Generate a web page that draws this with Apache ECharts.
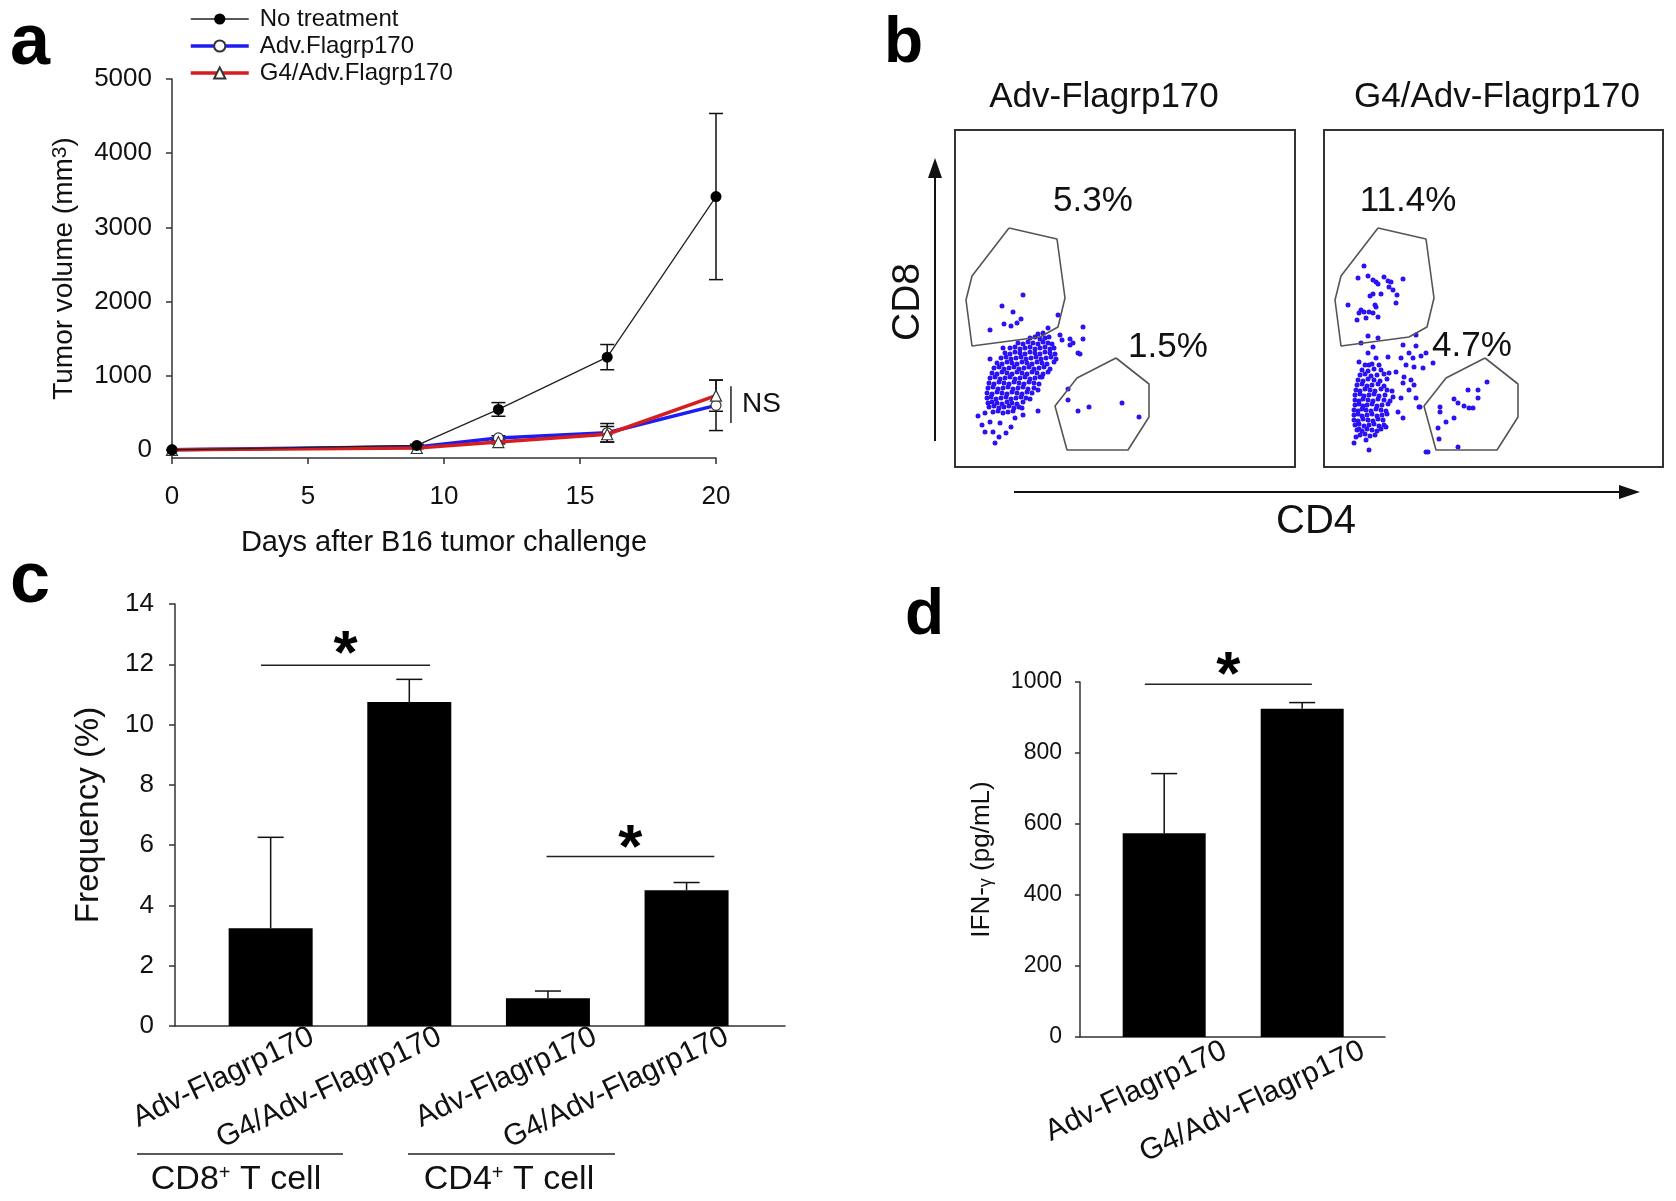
<!DOCTYPE html>
<html><head><meta charset="utf-8">
<script src="https://cdn.jsdelivr.net/npm/echarts@6/dist/echarts.min.js"></script>
<style>html,body{margin:0;padding:0;background:#fff}#c{width:1676px;height:1201px}</style>
</head><body><div id="c"></div>
<script>
const FONT = '"Liberation Sans", Arial, sans-serif';

// ---------- Panel a : tumor growth ----------
const days = [0, 9, 12, 16, 20];
const noTreatment = [0, 60, 545, 1250, 3415];
const noTreatmentErr = [0, 15, 92, 170, 1120];
const advFlagrp = [0, 40, 160, 230, 600];
const advFlagrpErr = [0, 10, 30, 125, 340];
const g4AdvFlagrp = [0, 25, 105, 210, 730];
const g4AdvFlagrpErr = [0, 10, 25, 105, 210];
const seriesNamesA = ['No treatment', 'Adv.Flagrp170', 'G4/Adv.Flagrp170'];
const yTicksA = [0, 1000, 2000, 3000, 4000, 5000];
const nsBracket = [[20.55, 362, 858]];

// ---------- Panel b : flow cytometry ----------
const flowTitles = ['Adv-Flagrp170', 'G4/Adv-Flagrp170'];
const flowPercents = [['5.3%', '1.5%'], ['11.4%', '4.7%']];
const cd8Gate = [[54,239],[102,228],[110,169],[103,140],[85,130],[17,121],[11,167],[17,191],[54,239]];
const cd4Gate = [[161,109],[194,83],[194,50],[173,17],[112,17],[100,61],[122,89],[161,109]];
const flowPointsAdv = [
 [68,172],[47,161],[58,155],[49,143],[56,141],[62,144],[66,148],[35,137],[103,152],[93,139],
 [113,78],[113,67],[123,56],[134,60],[167,64],[184,50],
 [40,24],[30,35],[38,35],[51,34],[23,51],[30,54],[35,45],[45,44],[60,49],[68,52],[83,56],[67,59],[75,68],[83,77],[85,90],
 [115,122],[123,114],[105,132],[107,127],[115,128],[35,108],[48,119],[128,140],[128,128],[125,113],[118,124],[27,42],[44,30],[56,40],
 [38,55],[43,56],[48,54],[53,55],[58,56],
 [34,60],[39,61],[44,59],[49,60],[54,61],[59,59],[64,60],
 [33,64],[37,65],[42,64],[47,63],[52,65],[57,64],[62,63],[68,65],
 [32,69],[36,70],[41,68],[46,69],[51,70],[56,68],[61,69],[66,70],[71,69],
 [32,74],[37,73],[42,75],[47,74],[52,73],[57,75],[62,74],[67,73],[72,75],[77,74],
 [33,79],[38,80],[43,78],[48,79],[53,80],[58,78],[63,79],[68,80],[73,78],[79,79],
 [34,84],[39,83],[44,85],[49,84],[54,83],[59,85],[64,84],[69,83],[74,85],[79,84],[84,83],
 [35,89],[40,90],[45,88],[50,89],[55,90],[60,88],[65,89],[70,90],[75,88],[80,89],[87,90],
 [37,94],[42,93],[47,95],[52,94],[57,93],[62,95],[67,94],[72,93],[77,95],[82,94],[88,93],[93,95],
 [39,99],[44,100],[49,98],[54,99],[59,100],[64,98],[69,99],[74,100],[79,98],[84,99],[89,100],[95,98],
 [42,104],[47,103],[52,105],[57,104],[62,103],[67,105],[72,104],[77,103],[82,105],[87,104],[92,103],[99,105],
 [46,109],[51,110],[56,108],[61,109],[66,110],[71,108],[76,109],[81,110],[86,108],[91,109],[96,110],[101,108],
 [50,114],[55,113],[60,115],[65,114],[70,113],[75,115],[80,114],[85,113],[90,115],[95,114],[100,113],
 [55,119],[60,120],[65,118],[70,119],[75,120],[80,118],[85,119],[90,120],[95,118],[99,119],
 [63,124],[68,123],[73,125],[78,124],[83,123],[88,125],[93,124],[97,123],
 [75,129],[80,130],[85,128],[90,129],[94,130],
 [83,133],[88,134]
];
const flowPointsG4 = [
 [40,201],[34,189],[44,191],[49,187],[52,185],[54,183],[60,190],[64,186],[67,185],[65,180],[69,177],[73,172],[72,164],[79,188],
 [57,173],[49,173],[46,171],[24,162],[51,162],[52,160],[37,157],[40,155],[35,154],[45,155],[49,154],[54,150],[42,149],[33,147],
 [44,131],[54,129],[37,124],[49,120],[79,122],[92,132],[92,121],
 [102,114],[109,104],[85,114],[77,109],[89,109],[97,111],[82,102],[90,100],[99,99],[72,95],[80,90],[87,87],[79,84],[90,82],
 [85,77],[69,70],[77,69],[92,69],[74,55],[79,49],[62,40],[65,94],[55,102],[64,110],[44,114],[35,105],[45,102],[52,109],[95,60],
 [32,30],[42,27],[45,17],[30,24],[102,15],[35,38],
 [163,85],[154,77],[144,77],[154,69],[130,68],[134,64],[140,61],[145,59],[149,59],[116,60],[116,55],[130,49],[122,45],
 [114,39],[115,28],[134,20],[104,15],[96,60],
 [36,32],[41,33],[46,31],[51,32],
 [33,37],[38,36],[43,38],[48,37],[53,36],[57,38],
 [31,42],[35,43],[40,41],[45,42],[50,43],[55,41],[60,42],
 [30,47],[34,46],[39,48],[44,47],[49,46],[54,48],[59,47],
 [30,52],[34,53],[38,51],[43,52],[48,53],[53,51],[58,52],[63,53],
 [30,57],[34,56],[38,58],[42,57],[47,56],[52,58],[57,57],[62,56],
 [31,62],[35,63],[39,61],[43,62],[48,63],[53,61],[58,62],[64,63],
 [31,67],[35,66],[39,68],[44,67],[49,66],[54,68],[60,67],[66,66],
 [31,72],[36,73],[40,71],[45,72],[50,73],[55,71],[61,72],
 [32,77],[36,76],[41,78],[46,77],[51,76],[57,78],[63,77],[68,76],
 [33,82],[38,83],[43,81],[48,82],[54,83],[60,81],
 [34,87],[39,86],[44,88],[50,87],[56,86],[63,88],
 [36,92],[41,93],[47,91],[53,92],[60,93],
 [38,97],[44,96],[50,98],[57,97],
 [41,102],[48,103]
];

// ---------- Panel c : frequency ----------
const catsC = ['Adv-Flagrp170', 'G4/Adv-Flagrp170', 'Adv-Flagrp170', 'G4/Adv-Flagrp170'];
const freqPos = [1, 2, 3, 4];
const freqValues = [3.24, 10.75, 0.92, 4.5];
const freqErr = [3.02, 0.75, 0.24, 0.26];
const groupsC = ['CD8', 'CD4'];
const sigC = [[0.93, 2.15, 11.97, 12.75], [2.99, 4.2, 5.62, 6.3]];

// ---------- Panel d : IFN-gamma ----------
const catsD = ['Adv-Flagrp170', 'G4/Adv-Flagrp170'];
const ifnPos = [1, 2];
const ifnValues = [574, 925];
const ifnErr = [168, 17];
const sigD = [[0.86, 2.07, 994, 1054]];

// ---------- helpers ----------
const AX = '#333';
function errRender(capW, upOnly) {
  return function (params, api) {
    const x = api.value(0), y = api.value(1), e = api.value(2);
    if (!e) return null;
    const top = api.coord([x, y + e]);
    const bot = api.coord([x, upOnly ? y : y - e]);
    const h = capW / 2, st = { stroke: '#111', lineWidth: 1.5 };
    const ch = [
      { type: 'line', shape: { x1: top[0], y1: top[1], x2: bot[0], y2: bot[1] }, style: st },
      { type: 'line', shape: { x1: top[0] - h, y1: top[1], x2: top[0] + h, y2: top[1] }, style: st }
    ];
    if (!upOnly) ch.push({ type: 'line', shape: { x1: bot[0] - h, y1: bot[1], x2: bot[0] + h, y2: bot[1] }, style: st });
    return { type: 'group', children: ch };
  };
}
function sigRender(params, api) {
  const a = api.coord([api.value(0), api.value(2)]);
  const b = api.coord([api.value(1), api.value(2)]);
  const s = api.coord([(api.value(0) + api.value(1)) / 2, api.value(3)]);
  return { type: 'group', children: [
    { type: 'line', shape: { x1: a[0], y1: a[1], x2: b[0], y2: b[1] }, style: { stroke: '#222', lineWidth: 1.5 } },
    { type: 'text', x: s[0], y: s[1] + 14, style: { text: '*', fontSize: 62, fontWeight: 'bold', fontFamily: FONT, align: 'center', verticalAlign: 'middle', fill: '#000' } }
  ]};
}
const triples = (xs, vs, es) => xs.map((x, i) => [x, vs[i], es[i]]);
const pairs = (xs, vs) => xs.map((x, i) => [x, vs[i]]);
const labelOffC = [0.30, 0.22, 0.34, 0.29];
const labelPosC = freqPos.map((p, i) => p + labelOffC[i]);
const labelPosD = ifnPos.map(p => p + 0.44);
const findIdx = (arr, v) => arr.findIndex(a => Math.abs(a - v) < 1e-6);
const plain = v => String(v);

function valueAxisBase(extra) {
  return Object.assign({
    type: 'value',
    axisLine: { show: true, onZero: false, lineStyle: { color: AX, width: 1.5 } },
    axisTick: { show: true, inside: false, length: 6, lineStyle: { color: AX, width: 1.5 } },
    splitLine: { show: false },
    axisLabel: { color: '#111', fontFamily: FONT, formatter: plain }
  }, extra);
}

const chart = echarts.init(document.getElementById('c'), null, { renderer: 'canvas' });
const option = {
  animation: false,
  backgroundColor: '#fff',
  textStyle: { fontFamily: FONT },
  legend: {
    orient: 'vertical', left: 184, top: 2, itemWidth: 58, itemHeight: 14, itemGap: 3,
    data: seriesNamesA, selectedMode: false,
    lineStyle: { width: 'inherit' },
    textStyle: { fontSize: 24, lineHeight: 24, color: '#111', fontFamily: FONT, padding: [0, 0, 0, 6] }
  },
  grid: [
    { left: 172, top: 79, width: 544, height: 379 },
    { left: 955, top: 130, width: 340, height: 337, show: true, borderColor: '#333', borderWidth: 2, backgroundColor: 'transparent' },
    { left: 1324, top: 130, width: 339, height: 337, show: true, borderColor: '#333', borderWidth: 2, backgroundColor: 'transparent' },
    { left: 175, top: 604, width: 610, height: 422 },
    { left: 1080, top: 682, width: 305, height: 355 }
  ],
  xAxis: [
    valueAxisBase({ gridIndex: 0, min: 0, max: 20, interval: 5,
      axisLabel: { fontSize: 26, margin: 26, color: '#111', fontFamily: FONT, formatter: plain },
      name: 'Days after B16 tumor challenge', nameLocation: 'middle', nameGap: 70,
      nameTextStyle: { fontSize: 29, color: '#111', fontFamily: FONT } }),
    { type: 'value', gridIndex: 1, min: 0, max: 340, show: false },
    { type: 'value', gridIndex: 2, min: 0, max: 339, show: false },
    valueAxisBase({ gridIndex: 3, min: 0.31, max: 4.71,
      axisTick: { show: false },
      axisLabel: { customValues: labelPosC, rotate: 25.5, fontSize: 30, margin: 9, color: '#111', fontFamily: FONT,
        formatter: v => catsC[findIdx(labelPosC, v)] || '' } }),
    valueAxisBase({ gridIndex: 4, min: 0.39, max: 2.60,
      axisTick: { show: false },
      axisLabel: { customValues: labelPosD, rotate: 25.5, fontSize: 30, margin: 12, color: '#111', fontFamily: FONT,
        formatter: v => catsD[findIdx(labelPosD, v)] || '' } })
  ],
  yAxis: [
    valueAxisBase({ gridIndex: 0, min: -110, max: 5000,
      axisTick: { show: true, length: 6, customValues: yTicksA, lineStyle: { color: AX, width: 1.5 } },
      axisLabel: { customValues: yTicksA, fontSize: 26, margin: 20, color: '#111', fontFamily: FONT, formatter: plain },
      name: '{t|Tumor volume (mm}{s|3}{t|)}', nameLocation: 'middle', nameGap: 94, nameRotate: 90,
      nameTextStyle: { rich: { t: { fontSize: 28, color: '#111', fontFamily: FONT }, s: { fontSize: 21, color: '#111', fontFamily: FONT, verticalAlign: 'top' } } } }),
    { type: 'value', gridIndex: 1, min: 0, max: 337, show: false },
    { type: 'value', gridIndex: 2, min: 0, max: 337, show: false },
    valueAxisBase({ gridIndex: 3, min: 0, max: 14, interval: 2,
      axisLabel: { fontSize: 26, margin: 21, color: '#111', fontFamily: FONT, formatter: plain },
      name: 'Frequency (%)', nameLocation: 'middle', nameGap: 70, nameRotate: 90,
      nameTextStyle: { fontSize: 33, color: '#111', fontFamily: FONT } }),
    valueAxisBase({ gridIndex: 4, min: 0, max: 1000, interval: 200,
      axisTick: { show: true, length: 5, lineStyle: { color: AX, width: 1.5 } },
      axisLabel: { fontSize: 23, margin: 18, color: '#111', fontFamily: FONT, formatter: plain },
      name: '{t|IFN-}{g|γ}{t| (pg/mL)}', nameLocation: 'middle', nameGap: 85, nameRotate: 90,
      nameTextStyle: { rich: { t: { fontSize: 26, color: '#111', fontFamily: FONT }, g: { fontSize: 18, color: '#111', fontFamily: FONT, verticalAlign: 'bottom' } } } })
  ],
  series: [
    { type: 'custom', name: 'errA', xAxisIndex: 0, yAxisIndex: 0, silent: true, z: 1,
      renderItem: errRender(14, false),
      data: triples(days, noTreatment, noTreatmentErr).concat(triples(days, advFlagrp, advFlagrpErr), triples(days, g4AdvFlagrp, g4AdvFlagrpErr)) },
    { type: 'line', name: seriesNamesA[1], xAxisIndex: 0, yAxisIndex: 0, z: 3,
      data: pairs(days, advFlagrp), symbol: 'circle', symbolSize: 10,
      lineStyle: { color: '#1c1cf5', width: 3.5 }, itemStyle: { color: '#fff', borderColor: '#333', borderWidth: 1.2 } },
    { type: 'line', name: seriesNamesA[2], xAxisIndex: 0, yAxisIndex: 0, z: 4,
      data: pairs(days, g4AdvFlagrp), symbol: 'triangle', symbolSize: 11,
      lineStyle: { color: '#d61e1e', width: 3.5 }, itemStyle: { color: '#fff', borderColor: '#333', borderWidth: 1.2 } },
    { type: 'line', name: seriesNamesA[0], xAxisIndex: 0, yAxisIndex: 0, z: 5,
      data: pairs(days, noTreatment), symbol: 'circle', symbolSize: 11,
      lineStyle: { color: '#222', width: 1.3 }, itemStyle: { color: '#000' } },
    { type: 'custom', name: 'ns', xAxisIndex: 0, yAxisIndex: 0, silent: true, clip: false,
      renderItem: (p, api) => {
        const a = api.coord([api.value(0), api.value(1)]);
        const b = api.coord([api.value(0), api.value(2)]);
        return { type: 'group', children: [
          { type: 'line', shape: { x1: a[0], y1: a[1], x2: b[0], y2: b[1] }, style: { stroke: '#222', lineWidth: 1.5 } },
          { type: 'text', x: a[0] + 11, y: (a[1] + b[1]) / 2, style: { text: 'NS', fontSize: 28, fontFamily: FONT, fill: '#111', align: 'left', verticalAlign: 'middle' } }
        ]};
      },
      data: nsBracket },

    { type: 'line', xAxisIndex: 1, yAxisIndex: 1, data: cd8Gate, symbol: 'none', silent: true, lineStyle: { color: '#555', width: 1.6 } },
    { type: 'line', xAxisIndex: 1, yAxisIndex: 1, data: cd4Gate, symbol: 'none', silent: true, lineStyle: { color: '#555', width: 1.6 } },
    { type: 'scatter', xAxisIndex: 1, yAxisIndex: 1, data: flowPointsAdv, symbol: 'circle', symbolSize: 5, silent: true, itemStyle: { color: '#2b12f2', opacity: 1 } },
    { type: 'line', xAxisIndex: 2, yAxisIndex: 2, data: cd8Gate, symbol: 'none', silent: true, lineStyle: { color: '#555', width: 1.6 } },
    { type: 'line', xAxisIndex: 2, yAxisIndex: 2, data: cd4Gate, symbol: 'none', silent: true, lineStyle: { color: '#555', width: 1.6 } },
    { type: 'scatter', xAxisIndex: 2, yAxisIndex: 2, data: flowPointsG4, symbol: 'circle', symbolSize: 5, silent: true, itemStyle: { color: '#2b12f2', opacity: 1 } },

    { type: 'bar', xAxisIndex: 3, yAxisIndex: 3, data: pairs(freqPos, freqValues), barWidth: 84, itemStyle: { color: '#000' }, silent: true },
    { type: 'custom', xAxisIndex: 3, yAxisIndex: 3, silent: true, renderItem: errRender(26, true), data: triples(freqPos, freqValues, freqErr), z: 3 },
    { type: 'custom', xAxisIndex: 3, yAxisIndex: 3, silent: true, clip: false, renderItem: sigRender, data: sigC },

    { type: 'bar', xAxisIndex: 4, yAxisIndex: 4, data: pairs(ifnPos, ifnValues), barWidth: 83, itemStyle: { color: '#000' }, silent: true },
    { type: 'custom', xAxisIndex: 4, yAxisIndex: 4, silent: true, renderItem: errRender(26, true), data: triples(ifnPos, ifnValues, ifnErr), z: 3 },
    { type: 'custom', xAxisIndex: 4, yAxisIndex: 4, silent: true, clip: false, renderItem: sigRender, data: sigD }
  ],
  graphic: [
    { type: 'text', left: 10, top: 8, style: { text: 'a', fontSize: 72, fontWeight: 'bold', fontFamily: FONT, fill: '#000' } },
    { type: 'text', left: 884, top: 12, style: { text: 'b', fontSize: 64, fontWeight: 'bold', fontFamily: FONT, fill: '#000' } },
    { type: 'text', left: 10, top: 546, style: { text: 'c', fontSize: 72, fontWeight: 'bold', fontFamily: FONT, fill: '#000' } },
    { type: 'text', left: 905, top: 584, style: { text: 'd', fontSize: 64, fontWeight: 'bold', fontFamily: FONT, fill: '#000' } },

    { type: 'text', x: 1104, y: 97, style: { text: flowTitles[0], fontSize: 35, fontFamily: FONT, fill: '#111', align: 'center', verticalAlign: 'middle' } },
    { type: 'text', x: 1497, y: 97, style: { text: flowTitles[1], fontSize: 35, fontFamily: FONT, fill: '#111', align: 'center', verticalAlign: 'middle' } },
    { type: 'text', x: 1093, y: 201, style: { text: flowPercents[0][0], fontSize: 35, fontFamily: FONT, fill: '#111', align: 'center', verticalAlign: 'middle' } },
    { type: 'text', x: 1168, y: 347, style: { text: flowPercents[0][1], fontSize: 35, fontFamily: FONT, fill: '#111', align: 'center', verticalAlign: 'middle' } },
    { type: 'text', x: 1408, y: 201, style: { text: flowPercents[1][0], fontSize: 35, fontFamily: FONT, fill: '#111', align: 'center', verticalAlign: 'middle' } },
    { type: 'text', x: 1472, y: 346, style: { text: flowPercents[1][1], fontSize: 35, fontFamily: FONT, fill: '#111', align: 'center', verticalAlign: 'middle' } },
    { type: 'text', x: 908, y: 302, rotation: Math.PI / 2, style: { text: 'CD8', fontSize: 39, fontFamily: FONT, fill: '#111', align: 'center', verticalAlign: 'middle' } },
    { type: 'text', x: 1316, y: 522, style: { text: 'CD4', fontSize: 40, fontFamily: FONT, fill: '#111', align: 'center', verticalAlign: 'middle' } },
    { type: 'line', shape: { x1: 935, y1: 441, x2: 935, y2: 175 }, style: { stroke: '#111', lineWidth: 2 } },
    { type: 'polygon', shape: { points: [[928, 178], [942, 178], [935, 158]] }, style: { fill: '#111' } },
    { type: 'line', shape: { x1: 1014, y1: 492, x2: 1622, y2: 492 }, style: { stroke: '#111', lineWidth: 2 } },
    { type: 'polygon', shape: { points: [[1619, 485], [1619, 499], [1640, 492]] }, style: { fill: '#111' } },

    { type: 'line', shape: { x1: 137, y1: 1154, x2: 343, y2: 1154 }, style: { stroke: '#222', lineWidth: 1.5 } },
    { type: 'line', shape: { x1: 408, y1: 1154, x2: 615, y2: 1154 }, style: { stroke: '#222', lineWidth: 1.5 } },
    { type: 'text', x: 236, y: 1180, style: { text: '{a|' + groupsC[0] + '}{s|+}{a| T cell}', align: 'center', verticalAlign: 'middle',
      rich: { a: { fontSize: 34, fontFamily: FONT, fill: '#111' }, s: { fontSize: 20, fontFamily: FONT, fill: '#111', verticalAlign: 'top' } } } },
    { type: 'text', x: 509, y: 1180, style: { text: '{a|' + groupsC[1] + '}{s|+}{a| T cell}', align: 'center', verticalAlign: 'middle',
      rich: { a: { fontSize: 34, fontFamily: FONT, fill: '#111' }, s: { fontSize: 20, fontFamily: FONT, fill: '#111', verticalAlign: 'top' } } } }
  ]
};
chart.setOption(option);
</script>
</body></html>
